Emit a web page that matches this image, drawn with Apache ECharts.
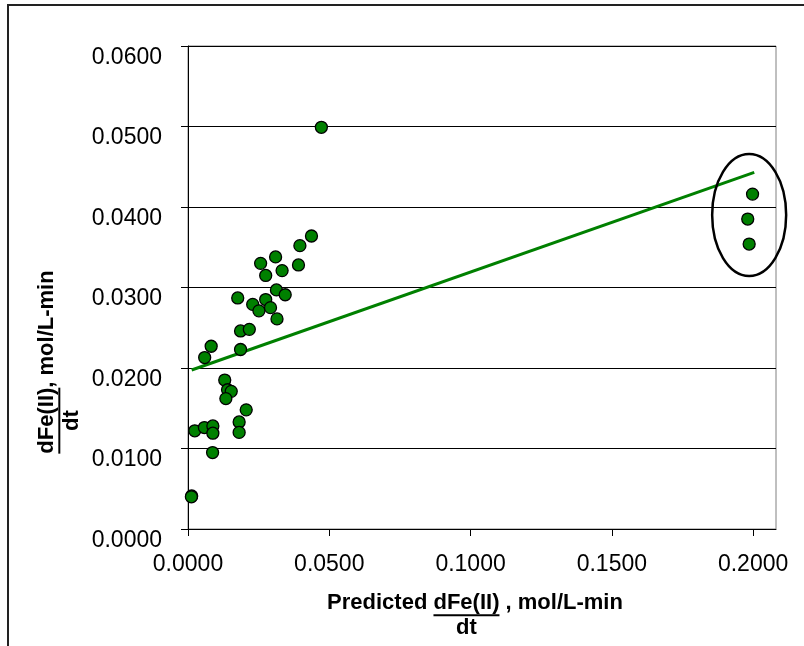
<!DOCTYPE html>
<html><head><meta charset="utf-8">
<script src="https://cdn.jsdelivr.net/npm/echarts@6/dist/echarts.min.js"></script>
<style>html,body{margin:0;padding:0;background:#fff}#c{width:804px;height:646px}</style>
</head><body><div id="c"></div>
<script>
// Predicted dFe(II)/dt (x) and measured dFe(II)/dt (y), mol/L-min
const predicted = [0.0472,0.0437,0.0396,0.0310,0.0257,0.0391,0.0333,0.0275,0.0313,0.0344,
  0.0176,0.0229,0.0275,0.0251,0.0292,0.0315,0.0186,0.0217,0.0082,0.0186,
  0.0059,0.0130,0.0140,0.0153,0.0134,0.0206,0.0181,0.0181,0.0024,0.0058,
  0.0088,0.0088,0.0087,0.0013,0.0012,0.1998,0.1981,0.1986];
const measured = [0.0499,0.0364,0.0352,0.0338,0.0330,0.0328,0.0321,0.0315,0.0297,0.0291,
  0.0287,0.0279,0.0285,0.0271,0.0275,0.0261,0.0246,0.0248,0.0227,0.0223,
  0.0213,0.0185,0.0173,0.0171,0.0162,0.0148,0.0133,0.0120,0.0122,0.0126,
  0.0128,0.0119,0.0095,0.0041,0.0040,0.0416,0.0385,0.0354];
// Linear trend line end points
const trendX = [0.0013, 0.2004];
const trendY = [0.01975, 0.0443];
// Axis ranges
const xMin = 0, xMax = 0.2081, xStep = 0.05;
const yMin = 0, yMax = 0.06, yStep = 0.01;

const FONT = '"Liberation Sans", Arial, sans-serif';
const chart = echarts.init(document.getElementById('c'), null, {renderer:'canvas'});

const pts = predicted.map((x,i)=>[x, measured[i]]);
const trend = trendX.map((x,i)=>[x, trendY[i]]);

function measure(t, size){
  const c = document.createElement('canvas').getContext('2d');
  c.font = 'bold ' + size + 'px ' + FONT;
  return c.measureText(t).width;
}
function fracTitle(prefix, num, den, suffix, size){
  const font = 'bold ' + size + 'px ' + FONT;
  const wp = prefix ? measure(prefix, size) : 0;
  const wn = measure(num, size);
  const ws = measure(suffix, size);
  const W = wp + wn + ws;
  let x = -W/2;
  const ch = [];
  if (prefix) { ch.push({type:'text', x:x, y:0, style:{text:prefix, font:font, fill:'#000', textAlign:'left', textVerticalAlign:'middle'}}); x += wp; }
  ch.push({type:'text', x:x, y:0, style:{text:num, font:font, fill:'#000', textAlign:'left', textVerticalAlign:'middle'}});
  ch.push({type:'line', shape:{x1:x, y1:size*0.56, x2:x+wn, y2:size*0.56}, style:{stroke:'#000', lineWidth:2}});
  ch.push({type:'text', x:x+wn/2, y:size*1.15, style:{text:den, font:font, fill:'#000', textAlign:'center', textVerticalAlign:'middle'}});
  x += wn;
  ch.push({type:'text', x:x, y:0, style:{text:suffix, font:font, fill:'#000', textAlign:'left', textVerticalAlign:'middle'}});
  return ch;
}

const option = {
  animation:false,
  backgroundColor:'#fff',
  grid:{left:188, top:46, right:28, bottom:117, show:true, borderColor:'#808080', borderWidth:1, backgroundColor:'transparent'},
  xAxis:{type:'value', min:xMin, max:xMax, interval:xStep,
    axisLine:{show:true, onZero:false, lineStyle:{color:'#000', width:1}},
    axisTick:{show:true, length:7, lineStyle:{color:'#000'}},
    splitLine:{show:false},
    axisLabel:{color:'#000', fontSize:23, fontFamily:FONT, margin:24, showMaxLabel:false,
      formatter:v=> (Math.abs(v/xStep - Math.round(v/xStep))<1e-6) ? v.toFixed(4) : ''}},
  yAxis:{type:'value', min:yMin, max:yMax, interval:yStep,
    axisLine:{show:true, onZero:false, lineStyle:{color:'#000', width:1}},
    axisTick:{show:true, length:7, lineStyle:{color:'#000'}},
    splitLine:{show:true, lineStyle:{color:'#000', width:1}},
    axisLabel:{color:'#000', fontSize:23, fontFamily:FONT, margin:26, verticalAlign:'top',
      formatter:v=>v.toFixed(4)}},
  series:[
    {type:'line', data:trend, symbol:'none', lineStyle:{color:'#008000', width:3}, z:2, silent:true},
    {type:'scatter', data:pts, symbol:'circle', symbolSize:12,
      itemStyle:{color:'#008000', borderColor:'#000', borderWidth:1.3, opacity:1}, z:3}
  ]
};
chart.setOption(option);

const ec = chart.convertToPixel({gridIndex:0}, [0.1986, 0.0390]);
chart.setOption({graphic:[
  {type:'rect', shape:{x:8, y:5, width:830, height:700}, style:{fill:'none', stroke:'#222', lineWidth:2}, silent:true},
  {type:'ellipse', shape:{cx:ec[0], cy:ec[1], rx:37, ry:61}, style:{fill:'none', stroke:'#000', lineWidth:2.5}, z:10, silent:true},
  {type:'group', x:475, y:603, children:fracTitle('Predicted ', 'dFe(II)', 'dt', ' , mol/L-min', 22)},
  {type:'group', x:47, y:362, rotation:Math.PI/2, children:fracTitle('', 'dFe(II)', 'dt', ', mol/L-min', 22)}
]});
</script></body></html>
